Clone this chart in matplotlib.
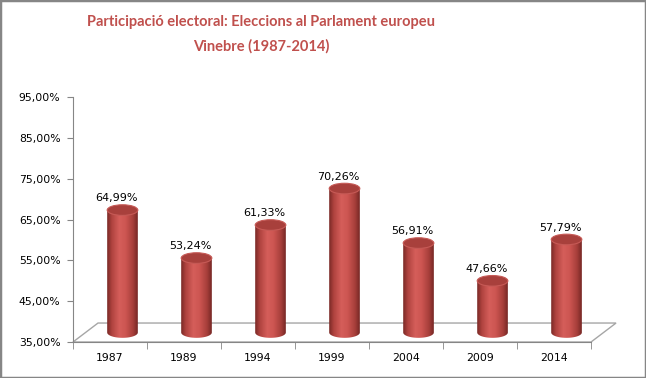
import numpy as np
import matplotlib.pyplot as plt
from matplotlib.patches import Ellipse, Polygon, PathPatch, Rectangle
from matplotlib.path import Path
from matplotlib.colors import LinearSegmentedColormap

years = ['1987', '1989', '1994', '1999', '2004', '2009', '2014']
turnout = [64.99, 53.24, 61.33, 70.26, 56.91, 47.66, 57.79]
yticks = [35, 45, 55, 65, 75, 85, 95]

red = '#C0504D'
gray = '#868686'

fig = plt.figure(figsize=(6.46, 3.78), dpi=100)
ax = fig.add_axes([0.113, 0.0952, 0.8019, 0.6481])
ax.set_xlim(-0.5, 6.5)
ax.set_ylim(35, 95)

# 3d-ish look: depth shift of the floor / cylinders (data units)
dx, dy = 0.338, 4.65
hw, eh = 0.207, 2.6

# floor
floor = Polygon([(-0.5, 35), (6.5, 35), (6.5 + dx, 35 + dy), (-0.5 + dx, 35 + dy)],
                closed=True, facecolor='white', edgecolor='#A6A6A6', lw=1.0,
                clip_on=False, zorder=1)
ax.add_patch(floor)

cmap = LinearSegmentedColormap.from_list('cyl', [
    (0.0, '#7A2926'), (0.15, '#B0433F'), (0.4, '#D55E5A'),
    (0.6, '#CD5652'), (0.85, '#A63E3A'), (1.0, '#772825')])
grad = np.linspace(0, 1, 64).reshape(1, -1)

for i, v in enumerate(turnout):
    cx = i + dx / 2
    y0 = 35 + dy / 2
    y1 = v + dy / 2
    t = np.linspace(np.pi, 2 * np.pi, 40)
    pts = [(cx + hw * np.cos(a), y0 + eh / 2 * np.sin(a)) for a in t]
    pts += [(cx + hw, y1), (cx - hw, y1), pts[0]]
    body = PathPatch(Path(pts), facecolor='none', edgecolor='none', clip_on=False)
    ax.add_patch(body)
    im = ax.imshow(grad, cmap=cmap, aspect='auto', interpolation='bilinear',
                   extent=[cx - hw, cx + hw, y0 - eh / 2, y1], zorder=2)
    im.set_clip_path(body)
    top = Ellipse((cx, y1), 2 * hw, eh, facecolor='#A8403C', edgecolor='#C65A56',
                  lw=0.8, zorder=3, clip_on=False)
    ax.add_patch(top)
    ax.text(i + 0.09, y1 + eh / 2 + 0.8, f'{v:.2f}%'.replace('.', ','),
            ha='center', va='baseline', fontsize=8, color='black', zorder=4)

ax.set_xlim(-0.5, 6.5)
ax.set_ylim(35, 95)

for s in ['top', 'right']:
    ax.spines[s].set_visible(False)
ax.spines['left'].set_color(gray)
ax.spines['bottom'].set_color(gray)

ax.set_yticks(yticks)
ax.set_yticklabels([f'{y:.2f}%'.replace('.', ',') for y in yticks])
ax.set_xticks(range(len(years)))
ax.set_xticklabels(years)
ax.set_xticks(np.arange(-0.5, 7, 1), minor=True)
ax.tick_params(axis='x', which='major', length=0, pad=8, labelsize=7.8)
ax.tick_params(axis='x', which='minor', length=5, color=gray)
ax.tick_params(axis='y', length=4, color=gray, pad=5, labelsize=7.8)

fig.text(261 / 646, 1 - 34 / 378,
         'Participació electoral: Eleccions al Parlament europeu\nVinebre (1987-2014)',
         ha='center', va='center', multialignment='center', family='Lato',
         fontweight='bold', fontsize=10.5, color=red, linespacing=1.85)

fig.patches.append(Rectangle((0, 0), 1, 1, transform=fig.transFigure, fill=False,
                             edgecolor=gray, lw=2.5))

fig.savefig('out.png', dpi=100)
